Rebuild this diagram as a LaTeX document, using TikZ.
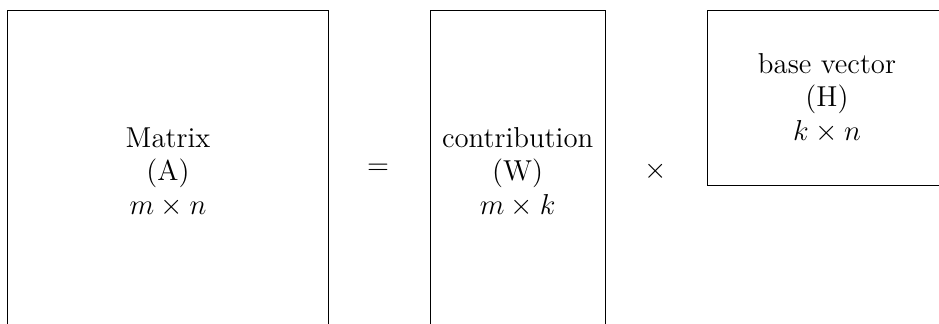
\documentclass[tikz,border=0pt]{standalone}
\usepackage{amsmath}
\usepackage{amssymb}
\usepackage{tikz}

\begin{document}
\begin{tikzpicture}[scale=1, every node/.style={font=\large}]
	\def\W{13.75}
	\def\Ht{4.73}
	\def\tall{4.72}
	\useasboundingbox (0,0) rectangle (\W,\Ht);
	\clip (0,0) rectangle (\W,\Ht);
	\tikzset{mat/.style={draw, align=center, inner sep=0pt, minimum height=\tall cm}}
	\node[mat, minimum width=4.69cm] (A) at (2.46,2.21) {Matrix\\(A)\\$m\times n$};
	\node[mat, minimum width=2.56cm] (Wm) at (7.58,2.21) {contribution\\(W)\\$m\times k$};
	\node[mat, minimum width=3.51cm, minimum height=2.55cm] (H) at (12.11,3.295) {base vector\\(H)\\$k\times n$};
	\node (eq) at (5.535,2.25) {$=$};
	\node (times) at (9.606,2.22) {$\times$};
\end{tikzpicture}
\end{document}
